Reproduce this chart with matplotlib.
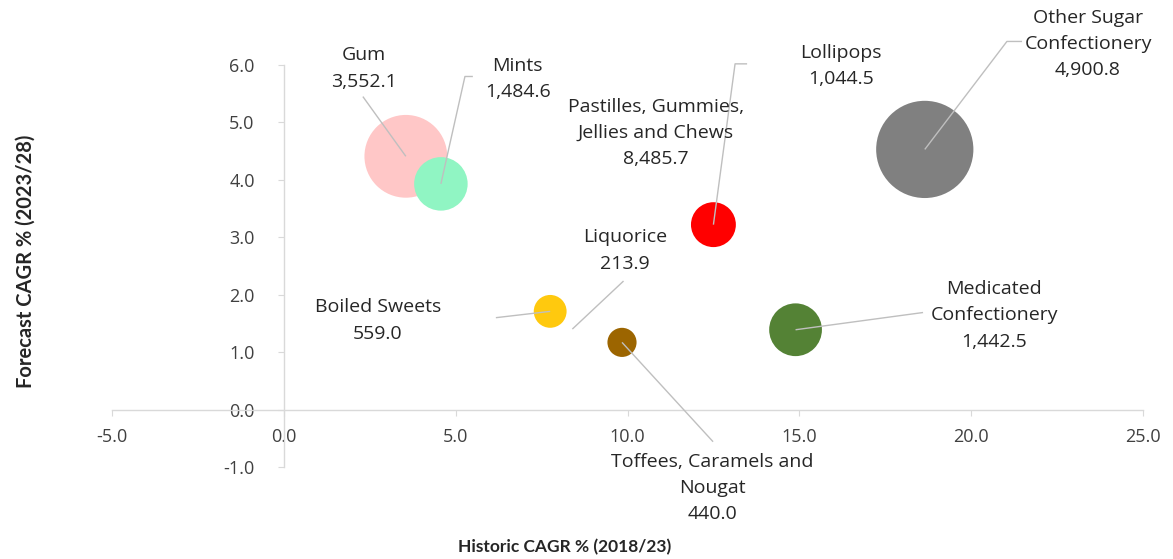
import matplotlib
matplotlib.use("Agg")
import matplotlib.pyplot as plt

plt.rcParams["font.family"] = ["Open Sans", "DejaVu Sans"]

# Market categories: historic CAGR (x), forecast CAGR (y), market size (bubble area)
categories = ["Gum", "Mints", "Lollipops", "Other Sugar Confectionery",
              "Boiled Sweets", "Toffees, Caramels and Nougat", "Medicated Confectionery"]
historic_cagr = [3.55, 4.57, 12.50, 18.65, 7.75, 9.84, 14.89]
forecast_cagr = [4.41, 3.93, 3.22, 4.53, 1.71, 1.17, 1.39]
market_size = [3552.1, 1484.6, 1044.5, 4900.8, 559.0, 440.0, 1442.5]
bubble_colors = ["#FFC7C7", "#90F5C3", "#FF0000", "#808080",
                 "#FFC90E", "#9C6500", "#548235"]

# Categories listed in the labels only (no bubble drawn)
extra_labels = ["Pastilles, Gummies,\nJellies and Chews\n8,485.7", "Liquorice\n213.9"]

x_ticks = [-5, 0, 5, 10, 15, 20, 25]
y_ticks = [-1, 0, 1, 2, 3, 4, 5, 6]

W, H, DPI = 11.73, 5.59, 100
fig = plt.figure(figsize=(W, H), dpi=DPI)
ax = fig.add_axes([112 / 1173, 1 - 467 / 559, (1143 - 112) / 1173, (467 - 65) / 559])
ax.set_xlim(-5, 25)
ax.set_ylim(-1, 6)

axis_col = "#D9D9D9"
for side in ["top", "right"]:
    ax.spines[side].set_visible(False)
ax.spines["left"].set_position(("data", 0))
ax.spines["bottom"].set_position(("data", 0))
for side in ["left", "bottom"]:
    ax.spines[side].set_color(axis_col)
    ax.spines[side].set_linewidth(1.0)

ax.set_xticks(x_ticks)
ax.set_yticks(y_ticks)
ax.set_xticklabels([f"{v:.1f}" for v in x_ticks])
ax.set_yticklabels([f"{v:.1f}" for v in y_ticks])
ax.tick_params(axis="x", length=4, color=axis_col, pad=9, labelsize=13, labelcolor="#404040")
ax.tick_params(axis="y", length=4, color=axis_col, pad=17, labelsize=13, labelcolor="#404040")

# Bubbles: marker area in points^2 proportional to market size
ax.scatter(historic_cagr, forecast_cagr, s=[v * 1.0 for v in market_size],
           c=bubble_colors, edgecolors="none", zorder=3, clip_on=False)

def fmt(v):
    return f"{v:,.1f}"

label_text = {
    "Gum": "Gum\n" + fmt(market_size[0]),
    "Mints": "Mints\n" + fmt(market_size[1]),
    "Lollipops": "Lollipops\n" + fmt(market_size[2]),
    "Other Sugar Confectionery": "Other Sugar\nConfectionery\n" + fmt(market_size[3]),
    "Boiled Sweets": "Boiled Sweets\n" + fmt(market_size[4]),
    "Toffees, Caramels and Nougat": "Toffees, Caramels and\nNougat\n" + fmt(market_size[5]),
    "Medicated Confectionery": "Medicated\nConfectionery\n" + fmt(market_size[6]),
}

# Label placement (block centre) and leader end point, in data units
label_pos = {
    "Gum": (2.33, 5.94),
    "Mints": (6.81, 5.76),
    "Lollipops": (16.21, 5.99),
    "Other Sugar Confectionery": (23.4, 6.36),
    "Boiled Sweets": (2.74, 1.55),
    "Toffees, Caramels and Nougat": (12.46, -1.36),
    "Medicated Confectionery": (20.67, 1.64),
}
leader_end = {
    "Gum": [(2.30, 5.45)],
    "Mints": [(5.27, 5.80), (5.50, 5.80)],
    "Lollipops": [(13.13, 6.02), (13.48, 6.02)],
    "Other Sugar Confectionery": [(21.04, 6.41), (21.48, 6.41)],
    "Boiled Sweets": [(6.17, 1.60)],
    "Toffees, Caramels and Nougat": [(12.49, -0.56)],
    "Medicated Confectionery": [(18.6, 1.69)],
}

leader_col = "#BFBFBF"
text_kw = dict(ha="center", va="center", fontsize=14, color="#262626",
               linespacing=1.58, zorder=5, clip_on=False)

for name, x, y in zip(categories, historic_cagr, forecast_cagr):
    pts = [(x, y)] + leader_end[name]
    ax.plot([p[0] for p in pts], [p[1] for p in pts], color=leader_col, lw=1.0,
            zorder=4, clip_on=False, solid_capstyle="butt")
    lx, ly = label_pos[name]
    ax.text(lx, ly, label_text[name], **text_kw)

# Labels without a plotted bubble
ax.text(10.83, 4.82, extra_labels[0], **text_kw)
ax.text(9.93, 2.77, extra_labels[1], **text_kw)
ax.plot([9.87, 8.41], [2.23, 1.41], color=leader_col, lw=1.0, zorder=4, clip_on=False)

fig.text(565 / 1173, 1 - 547 / 559, "Historic CAGR % (2018/23)", ha="center", va="center",
         fontsize=12.5, fontweight="bold", color="#262626",
         family=["Liberation Sans Narrow", "Lato", "DejaVu Sans"])
fig.text(26 / 1173, 1 - 261 / 559, "Forecast CAGR % (2023/28)", ha="center", va="center",
         rotation=90, fontsize=14.5, fontweight="bold", color="#262626",
         family=["Lato", "DejaVu Sans"])

fig.savefig("out.png", dpi=DPI, facecolor="white")
